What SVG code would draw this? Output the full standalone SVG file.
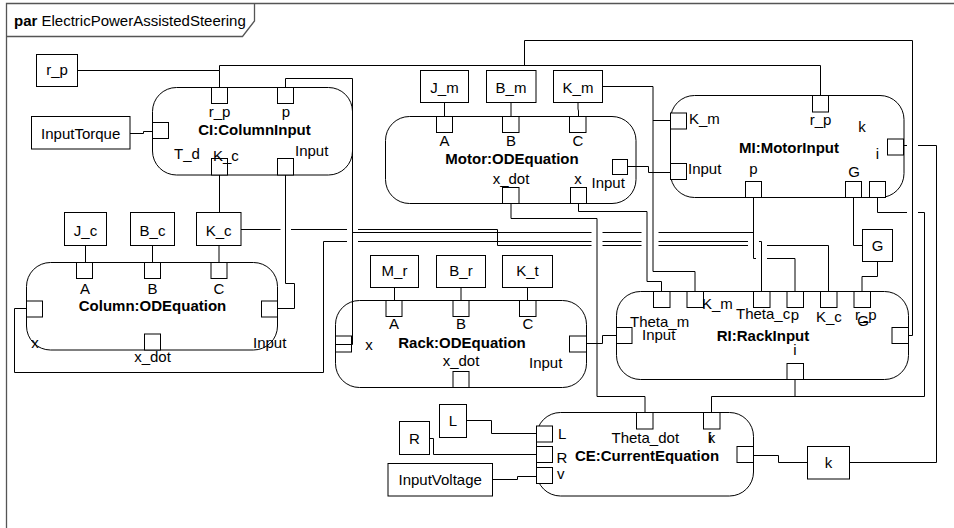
<svg xmlns="http://www.w3.org/2000/svg" width="954" height="528" viewBox="0 0 954 528">
  <style>
    text { font-family: "Liberation Sans", Arial, sans-serif; font-size: 15px; fill: #000; }
    .b { font-weight: bold; }
    .m { text-anchor: middle; }
    .box { fill: #fff; stroke: #000; stroke-width: 1; }
    .blk { fill: #fff; stroke: #000; stroke-width: 1; }
    .pt { fill: #fff; stroke: #000; stroke-width: 1; }
    .ln { fill: none; stroke: #000; stroke-width: 1; }
    .frame { fill: none; stroke: #555; stroke-width: 1.3; }
  </style>

  <rect x="0" y="0" width="954" height="528" fill="#fff"/>

  <!-- diagram frame with name tab -->
  <g id="frame">
    <path class="frame" d="M6.5,540 V3.5 H960"/>
    <path class="frame" d="M6.5,36.5 H242.5 L254.5,21 V3.5"/>
    <text x="14" y="26"><tspan class="b">par</tspan> ElectricPowerAssistedSteering</text>
  </g>

  <!-- value boxes -->
  <g id="r_p"><rect class="box" x="36.5" y="54.5" width="41" height="32"/><text class="m" x="57" y="75">r_p</text></g>
  <g id="InputTorque"><rect class="box" x="31.5" y="116.5" width="98.5" height="32.5"/><text class="m" x="80.7" y="138.5">InputTorque</text></g>
  <g id="J_c"><rect class="box" x="64.5" y="212.5" width="42" height="33"/><text class="m" x="85.5" y="235.5">J_c</text></g>
  <g id="B_c"><rect class="box" x="130.5" y="212.5" width="44" height="33"/><text class="m" x="152.5" y="235.5">B_c</text></g>
  <g id="K_c"><rect class="box" x="196.5" y="212.5" width="44.5" height="33"/><text class="m" x="218.7" y="235.5">K_c</text></g>
  <g id="J_m"><rect class="box" x="420.5" y="70.5" width="48" height="32"/><text class="m" x="444.5" y="92.5">J_m</text></g>
  <g id="B_m"><rect class="box" x="486.5" y="70.5" width="49.5" height="32"/><text class="m" x="511" y="92.5">B_m</text></g>
  <g id="K_m"><rect class="box" x="553.5" y="70.5" width="49" height="32"/><text class="m" x="578" y="92.5">K_m</text></g>
  <g id="M_r"><rect class="box" x="370.5" y="255.5" width="48" height="32"/><text class="m" x="394.5" y="276">M_r</text></g>
  <g id="B_r"><rect class="box" x="436.5" y="255.5" width="49" height="32"/><text class="m" x="461" y="276">B_r</text></g>
  <g id="K_t"><rect class="box" x="502.5" y="255.5" width="50" height="32"/><text class="m" x="527.5" y="276">K_t</text></g>
  <g id="G"><rect class="box" x="862.5" y="229.5" width="30" height="32"/><text class="m" x="877.5" y="250.5">G</text></g>
  <g id="L"><rect class="box" x="439.5" y="404.5" width="27" height="33"/><text class="m" x="453" y="426">L</text></g>
  <g id="R"><rect class="box" x="399.5" y="421.5" width="30" height="33"/><text class="m" x="414.5" y="443.5">R</text></g>
  <g id="InputVoltage"><rect class="box" x="388" y="463.5" width="104.5" height="32.5"/><text class="m" x="440.2" y="485">InputVoltage</text></g>
  <g id="k"><rect class="box" x="807.5" y="446.5" width="42" height="32.5"/><text class="m" x="828.5" y="468">k</text></g>

  <!-- CI:ColumnInput -->
  <g id="CI">
    <rect class="blk" x="152.5" y="87.5" width="200" height="87.5" rx="24"/>
    <rect class="pt" x="211.5" y="87.5" width="16" height="16"/>
    <rect class="pt" x="277.5" y="87.5" width="16" height="16"/>
    <rect class="pt" x="152.5" y="122.5" width="16" height="16"/>
    <rect class="pt" x="211.5" y="158.5" width="16" height="16.5"/>
    <rect class="pt" x="277.5" y="158.5" width="16" height="16.5"/>
    <text class="m" x="219.5" y="117">r_p</text>
    <text class="m" x="286" y="117">p</text>
    <text class="b m" x="254.5" y="134.5">CI:ColumnInput</text>
    <text x="174" y="159">T_d</text>
    <text x="213" y="160.5">K_c</text>
    <text x="295" y="155.5">Input</text>
  </g>

  <!-- Column:ODEquation -->
  <g id="Column">
    <rect class="blk" x="26.5" y="262.5" width="251" height="87.5" rx="24"/>
    <rect class="pt" x="76.5" y="262.5" width="16" height="16"/>
    <rect class="pt" x="144.5" y="262.5" width="16" height="16"/>
    <rect class="pt" x="211" y="262.5" width="16" height="16"/>
    <rect class="pt" x="26.5" y="301" width="16" height="16"/>
    <rect class="pt" x="261.5" y="301" width="16" height="16"/>
    <rect class="pt" x="144.5" y="334" width="16" height="16"/>
    <text class="m" x="85" y="293.5">A</text>
    <text class="m" x="152.5" y="293.5">B</text>
    <text class="m" x="219" y="293.5">C</text>
    <text class="b m" x="152.5" y="311">Column:ODEquation</text>
    <text class="m" x="35" y="348">x</text>
    <text x="253" y="347.5">Input</text>
    <text class="m" x="152.5" y="362">x_dot</text>
  </g>

  <!-- Motor:ODEquation -->
  <g id="Motor">
    <rect class="blk" x="385.5" y="116.5" width="250.5" height="87" rx="24"/>
    <rect class="pt" x="436.5" y="116.5" width="16" height="16"/>
    <rect class="pt" x="502.5" y="116.5" width="16.5" height="16"/>
    <rect class="pt" x="569.5" y="116.5" width="16.5" height="16"/>
    <rect class="pt" x="502.5" y="187.5" width="16.5" height="16"/>
    <rect class="pt" x="570.5" y="187.5" width="16" height="16"/>
    <rect class="pt" x="612.5" y="159.5" width="15" height="15"/>
    <text class="m" x="444.5" y="145.5">A</text>
    <text class="m" x="511" y="145.5">B</text>
    <text class="m" x="578" y="145.5">C</text>
    <text class="b m" x="512" y="163.5">Motor:ODEquation</text>
    <text class="m" x="511" y="183.5">x_dot</text>
    <text class="m" x="578" y="183.5">x</text>
    <text x="591.5" y="187.5">Input</text>
  </g>

  <!-- MI:MotorInput -->
  <g id="MI">
    <rect class="blk" x="670.5" y="95.5" width="233.5" height="102" rx="24"/>
    <rect class="pt" x="812.5" y="95.5" width="16" height="16.5"/>
    <rect class="pt" x="670.5" y="113" width="16" height="16"/>
    <rect class="pt" x="670.5" y="163.5" width="16" height="16"/>
    <rect class="pt" x="887.5" y="139" width="16" height="16"/>
    <rect class="pt" x="745.5" y="181.5" width="16" height="16"/>
    <rect class="pt" x="845.5" y="181.5" width="16" height="16"/>
    <rect class="pt" x="869.5" y="181.5" width="16" height="16"/>
    <text x="689" y="123.5">K_m</text>
    <text class="m" x="820.5" y="124.5">r_p</text>
    <text class="m" x="862" y="131.5">k</text>
    <text class="b m" x="789" y="152.5">MI:MotorInput</text>
    <text class="m" x="877.5" y="159">i</text>
    <text x="688" y="174">Input</text>
    <text class="m" x="753.5" y="174">p</text>
    <text class="m" x="854" y="177">G</text>
  </g>

  <!-- Rack:ODEquation -->
  <g id="Rack">
    <rect class="blk" x="335.5" y="300.5" width="251" height="87" rx="24"/>
    <rect class="pt" x="386" y="300.5" width="16" height="16"/>
    <rect class="pt" x="453" y="300.5" width="16" height="16"/>
    <rect class="pt" x="519.5" y="300.5" width="16.5" height="16"/>
    <rect class="pt" x="335.5" y="336" width="16" height="16"/>
    <rect class="pt" x="569.5" y="336" width="17" height="16"/>
    <rect class="pt" x="453" y="371.5" width="16" height="16"/>
    <text class="m" x="394" y="329">A</text>
    <text class="m" x="461" y="329">B</text>
    <text class="m" x="528" y="329">C</text>
    <text class="m" x="369" y="349.5">x</text>
    <text class="b m" x="462" y="347.5">Rack:ODEquation</text>
    <text class="m" x="461" y="366">x_dot</text>
    <text x="529" y="368">Input</text>
  </g>

  <!-- RI:RackInput -->
  <g id="RI">
    <rect class="blk" x="616.5" y="291.5" width="292" height="88" rx="24"/>
    <rect class="pt" x="653.5" y="291.5" width="16.5" height="16"/>
    <rect class="pt" x="687" y="291.5" width="16.5" height="16"/>
    <rect class="pt" x="753.5" y="291.5" width="16.5" height="16"/>
    <rect class="pt" x="787" y="291.5" width="16.5" height="16"/>
    <rect class="pt" x="820.5" y="291.5" width="16.5" height="16"/>
    <rect class="pt" x="854" y="291.5" width="16.5" height="16"/>
    <rect class="pt" x="616.5" y="327.5" width="15.5" height="16"/>
    <rect class="pt" x="892" y="327.5" width="16.5" height="16"/>
    <rect class="pt" x="787" y="363.5" width="16.5" height="16"/>
    <text x="702" y="308.5">K_m</text>
    <text x="736" y="318.5">Theta_c</text>
    <text class="m" x="795" y="319.5">p</text>
    <text x="816" y="322">K_c</text>
    <text x="855" y="320">r_p</text>
    <text class="m" x="863" y="326">G</text>
    <text x="630" y="327">Theta_m</text>
    <text x="642" y="340">Input</text>
    <text class="b m" x="763" y="340.5">RI:RackInput</text>
    <text class="m" x="795" y="355">i</text>
  </g>

  <!-- CE:CurrentEquation -->
  <g id="CE">
    <rect class="blk" x="536.5" y="412.5" width="217" height="83.5" rx="24"/>
    <rect class="pt" x="636.5" y="412.5" width="16.5" height="16.5"/>
    <rect class="pt" x="703.5" y="412.5" width="16.5" height="16.5"/>
    <rect class="pt" x="536.5" y="426" width="16" height="16"/>
    <rect class="pt" x="536.5" y="446.5" width="16" height="16"/>
    <rect class="pt" x="536.5" y="467.5" width="16" height="16"/>
    <rect class="pt" x="737" y="446.5" width="16.5" height="16"/>
    <text class="m" x="645.3" y="442.5">Theta_dot</text>
    <text class="m" x="710.5" y="442.5">i</text>
    <text class="m" x="711.5" y="442.5">k</text>
    <text class="b m" x="647" y="460.5">CE:CurrentEquation</text>
    <text x="558" y="439">L</text>
    <text x="556.5" y="463">R</text>
    <text x="557" y="479">v</text>
  </g>

  <!-- binding connectors (gaps mark line crossings) -->
  <g id="connectors" class="ln">
    <!-- r_p -->
    <path d="M77.5,70.5 H219.5 V87.5"/>
    <path d="M219.5,70.5 V65.5 H820.5 V95.5"/>
    <path d="M524.5,65.5 V40.5 H912.5 V335.5 H908.5"/>
    <!-- InputTorque -->
    <path d="M130,133.5 H143.5 V131.5 H152.5"/>
    <!-- CI.p to Rack.x and RI.p -->
    <path d="M285.5,87.5 V78.5 H352.5 V344.5 H335.5"/>
    <path d="M352.5,232.5 H591.5 M602.5,232.5 H641.5 M658.5,232.5 H753.5"/>
    <!-- CI.K_c / K_c -->
    <path d="M219.5,175 V212.5"/>
    <path d="M241,229.5 H280.5 M291,229.5 H347 M358,229.5 H497.5 V245.5 H591.5 M602.5,245.5 H641.5 M658.5,245.5 H748 M767,245.5 H828.5 V291.5"/>
    <!-- CI.Input to Column.Input -->
    <path d="M285.5,175 V283.5 H294.5 V308.5 H277.5"/>
    <!-- Column parameters -->
    <path d="M85.5,245.5 V262.5 M152.5,245.5 V262.5 M219,245.5 V262.5"/>
    <!-- Column.x to RI.Theta_c -->
    <path d="M26.5,308.5 H14.5 V372.5 H323.5 V241.5 H347 M358,241.5 H591.5 M602.5,241.5 H641.5 M658.5,241.5 H748 M759,241.5 H761.5 V291.5"/>
    <!-- Motor parameters -->
    <path d="M444.5,102.5 V116.5 M511,102.5 V116.5 M578,102.5 V109 L578.5,111 V116.5"/>
    <!-- K_m to MI.K_m and RI.K_m -->
    <path d="M602.5,86.5 H653 V271.5 H695 V291.5"/>
    <path d="M653,120.5 H670.5"/>
    <!-- Motor.Input to MI.Input -->
    <path d="M627.5,166.5 H648.5 V172.5 H670.5"/>
    <!-- Motor.x_dot to CE.Theta_dot -->
    <path d="M511,203.5 V218.5 H597 V396.5 H645 V412.5"/>
    <!-- Motor.x to RI.Theta_m -->
    <path d="M578.5,203.5 V211.5 H647 V281.5 H661.5 V291.5"/>
    <!-- MI.p to RI.p -->
    <path d="M753.5,197.5 V258.5 H756 M767,258.5 H795 V291.5"/>
    <!-- MI.G to G to RI.G -->
    <path d="M853.5,197.5 V245.5 H862.5"/>
    <path d="M877.5,261.5 V276.5 H862 V291.5"/>
    <!-- MI and RI.i to CE.k -->
    <path d="M877.5,197.5 V212.5 H907 M918,212.5 H924.5 V396.5 H711.5 V412.5"/>
    <path d="M795,379.5 V396.5"/>
    <!-- MI.i to k -->
    <path d="M903.5,145.5 H907 M918,145.5 H936.5 V462.5 H849.5"/>
    <!-- CE output to k -->
    <path d="M753.5,455.5 H778.5 V462.5 H807.5"/>
    <!-- Rack parameters -->
    <path d="M394.5,287.5 V300.5 M461,287.5 V300.5 M527.5,287.5 V300.5"/>
    <!-- Rack.Input to RI.Input -->
    <path d="M586.5,343.5 H602.5 V335.5 H616.5"/>
    <!-- CE inputs -->
    <path d="M466.5,420.5 H491.5 V433.5 H536.5"/>
    <path d="M429.5,438.5 H433.5 V454.5 H536.5"/>
    <path d="M492.5,479.5 H517.5 V476.5 H536.5"/>
  </g>
</svg>
